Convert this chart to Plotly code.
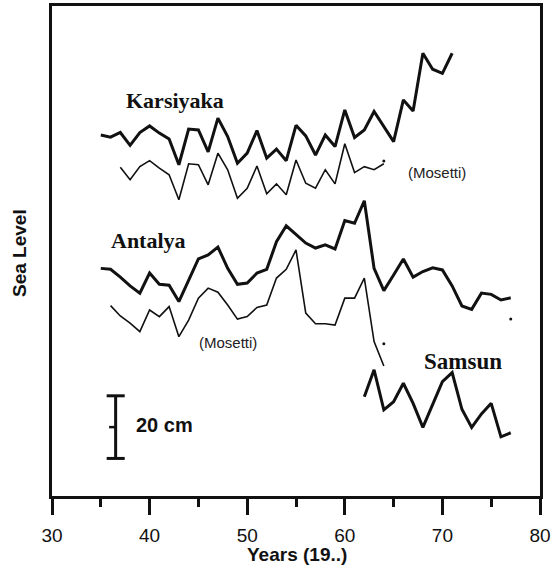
import plotly.graph_objects as go

# ---- data (sea level in cm, as plotted on the figure's stacked scale) ----
years_karsiyaka = list(range(1935, 1972))
karsiyaka = [115.3, 114.6, 116.1, 112.0, 116.1, 118.2, 115.9, 114.0, 105.8, 117.2,
             116.9, 109.9, 120.7, 114.8, 106.3, 109.5, 116.7, 107.9, 110.8, 107.1,
             118.4, 115.0, 108.9, 115.3, 111.6, 123.3, 114.5, 116.9, 122.8, 118.0,
             113.2, 126.5, 123.0, 141.4, 136.3, 135.0, 141.4]

years_karsiyaka_mosetti = list(range(1937, 1965))
karsiyaka_mosetti = [105.0, 101.0, 105.2, 107.1, 104.7, 102.6, 94.6, 106.1, 105.8, 99.4,
                     109.5, 104.2, 95.1, 98.3, 105.4, 96.5, 99.7, 96.2, 107.3, 99.9,
                     98.3, 104.2, 99.7, 112.5, 103.3, 105.2, 104.2, 106.1]

years_antalya = list(range(1935, 1978))
antalya = [72.7, 72.4, 69.9, 67.1, 64.8, 71.2, 67.6, 67.3, 62.1, 69.0,
           75.7, 77.0, 79.5, 72.7, 67.6, 68.0, 71.2, 72.4, 81.2, 86.3,
           83.7, 80.8, 79.2, 80.2, 78.9, 88.0, 87.1, 94.3, 72.7, 65.6,
           70.6, 75.7, 69.9, 71.7, 72.9, 72.2, 67.1, 60.7, 59.6, 64.8,
           64.4, 62.6, 63.3]

years_antalya_mosetti = list(range(1936, 1965))
antalya_mosetti = [60.8, 57.5, 55.2, 52.5, 59.4, 57.3, 60.5, 50.9, 56.2, 63.2,
                   66.4, 65.1, 61.0, 56.5, 57.3, 60.2, 61.0, 69.6, 72.4, 78.6,
                   58.4, 55.0, 55.0, 54.6, 63.2, 63.2, 69.6, 49.3, 41.5]

years_samsun = list(range(1962, 1978))
samsun = [31.7, 40.3, 27.5, 30.1, 36.0, 29.6, 21.9, 29.1, 36.5, 39.4,
          27.7, 21.9, 26.2, 29.6, 18.9, 20.2]

# stray dots visible in the original scan
dot_years = [1964, 1964, 1977]
dot_values = [107.0, 48.6, 56.5]

x_tick_vals = [30, 40, 50, 60, 70, 80]
x_tick_text = ["30", "40", "50", "60", "70", "80"]

scale_bar_cm = 20

# ---- figure ----
def yr(lst):
    return [y - 1900 for y in lst]

INK = "#111111"
fig = go.Figure()
fig.add_trace(go.Scatter(x=yr(years_karsiyaka), y=karsiyaka, mode="lines",
                         line=dict(color=INK, width=3), name="Karsiyaka"))
fig.add_trace(go.Scatter(x=yr(years_karsiyaka_mosetti), y=karsiyaka_mosetti, mode="lines",
                         line=dict(color=INK, width=1.6), name="Karsiyaka (Mosetti)"))
fig.add_trace(go.Scatter(x=yr(years_antalya), y=antalya, mode="lines",
                         line=dict(color=INK, width=3), name="Antalya"))
fig.add_trace(go.Scatter(x=yr(years_antalya_mosetti), y=antalya_mosetti, mode="lines",
                         line=dict(color=INK, width=1.6), name="Antalya (Mosetti)"))
fig.add_trace(go.Scatter(x=yr(years_samsun), y=samsun, mode="lines",
                         line=dict(color=INK, width=3), name="Samsun"))
fig.add_trace(go.Scatter(x=yr(dot_years), y=dot_values, mode="markers",
                         marker=dict(color=INK, size=3), name="dots"))

serif = "Liberation Serif, Times New Roman, serif"
sans = "Liberation Sans, Arial, sans-serif"

def label(x, y, text, size, family, weight="normal", color=INK):
    fig.add_annotation(x=x, y=y, xref="x", yref="y", text=text, showarrow=False,
                       font=dict(family=family, size=size, color=color, weight=weight),
                       xanchor="center", yanchor="middle")

label(42.6, 126.4, "Karsiyaka", 22, serif, "bold")
label(39.85, 81.6, "Antalya", 22, serif, "bold")
label(72.15, 42.8, "Samsun", 23, serif, "bold")
label(69.4, 103.3, "(Mosetti)", 15, sans, color="#222222")
label(48.0, 49.0, "(Mosetti)", 15, sans, color="#222222")
label(41.5, 22.7, "20 cm", 20, sans, "bold")

# scale bar
bx, b0 = 36.52, 12.0
fig.add_shape(type="line", x0=bx, x1=bx, y0=b0, y1=b0 + scale_bar_cm, line=dict(color=INK, width=3))
fig.add_shape(type="line", x0=35.6, x1=37.45, y0=b0, y1=b0, line=dict(color=INK, width=3))
fig.add_shape(type="line", x0=35.6, x1=37.45, y0=b0 + scale_bar_cm, y1=b0 + scale_bar_cm, line=dict(color=INK, width=3))
fig.add_shape(type="line", x0=35.85, x1=bx, y0=b0 + scale_bar_cm / 2, y1=b0 + scale_bar_cm / 2,
              line=dict(color=INK, width=2.5))

PL, PT, PW, PH = 52, 6, 488, 490  # plot area in pixels

def paper(px, py):
    return (px - PL) / PW, (PT + PH - py) / PH

sx, sy = paper(19, 253)
fig.add_annotation(x=sx, y=sy, xref="paper", yref="paper", text="Sea Level", showarrow=False,
                   textangle=-90, xanchor="center", yanchor="middle",
                   font=dict(family=sans, size=19, color=INK, weight="bold"))
tx, ty = paper(297, 554)
fig.add_annotation(x=tx, y=ty, xref="paper", yref="paper", text="Years (19..)", showarrow=False,
                   xanchor="center", yanchor="middle",
                   font=dict(family=sans, size=19, color=INK, weight="bold"))

fig.update_layout(
    width=552, height=567,
    margin=dict(l=PL, r=552 - PL - PW, t=PT, b=567 - PT - PH, autoexpand=False),
    paper_bgcolor="white", plot_bgcolor="white",
    showlegend=False,
    xaxis=dict(range=[30, 80], tickvals=x_tick_vals, ticktext=x_tick_text, automargin=False,
               showgrid=False, zeroline=False, showline=True, linewidth=3, linecolor=INK,
               mirror=True, ticks="outside", ticklen=16, tickwidth=3, tickcolor=INK,
               minor=dict(dtick=5, tick0=30, ticks="outside", ticklen=8, tickwidth=3, tickcolor=INK),
               tickfont=dict(family=sans, size=19, color=INK), ticklabelstandoff=4),
    yaxis=dict(range=[0, 156.5], automargin=False, showgrid=False, zeroline=False, showline=True,
               linewidth=3, linecolor=INK, mirror=True, showticklabels=False, ticks=""),
)

fig.write_html("out.html", config={"displayModeBar": False},
               post_script="document.body.style.margin='0px';document.body.style.overflow='hidden';")
